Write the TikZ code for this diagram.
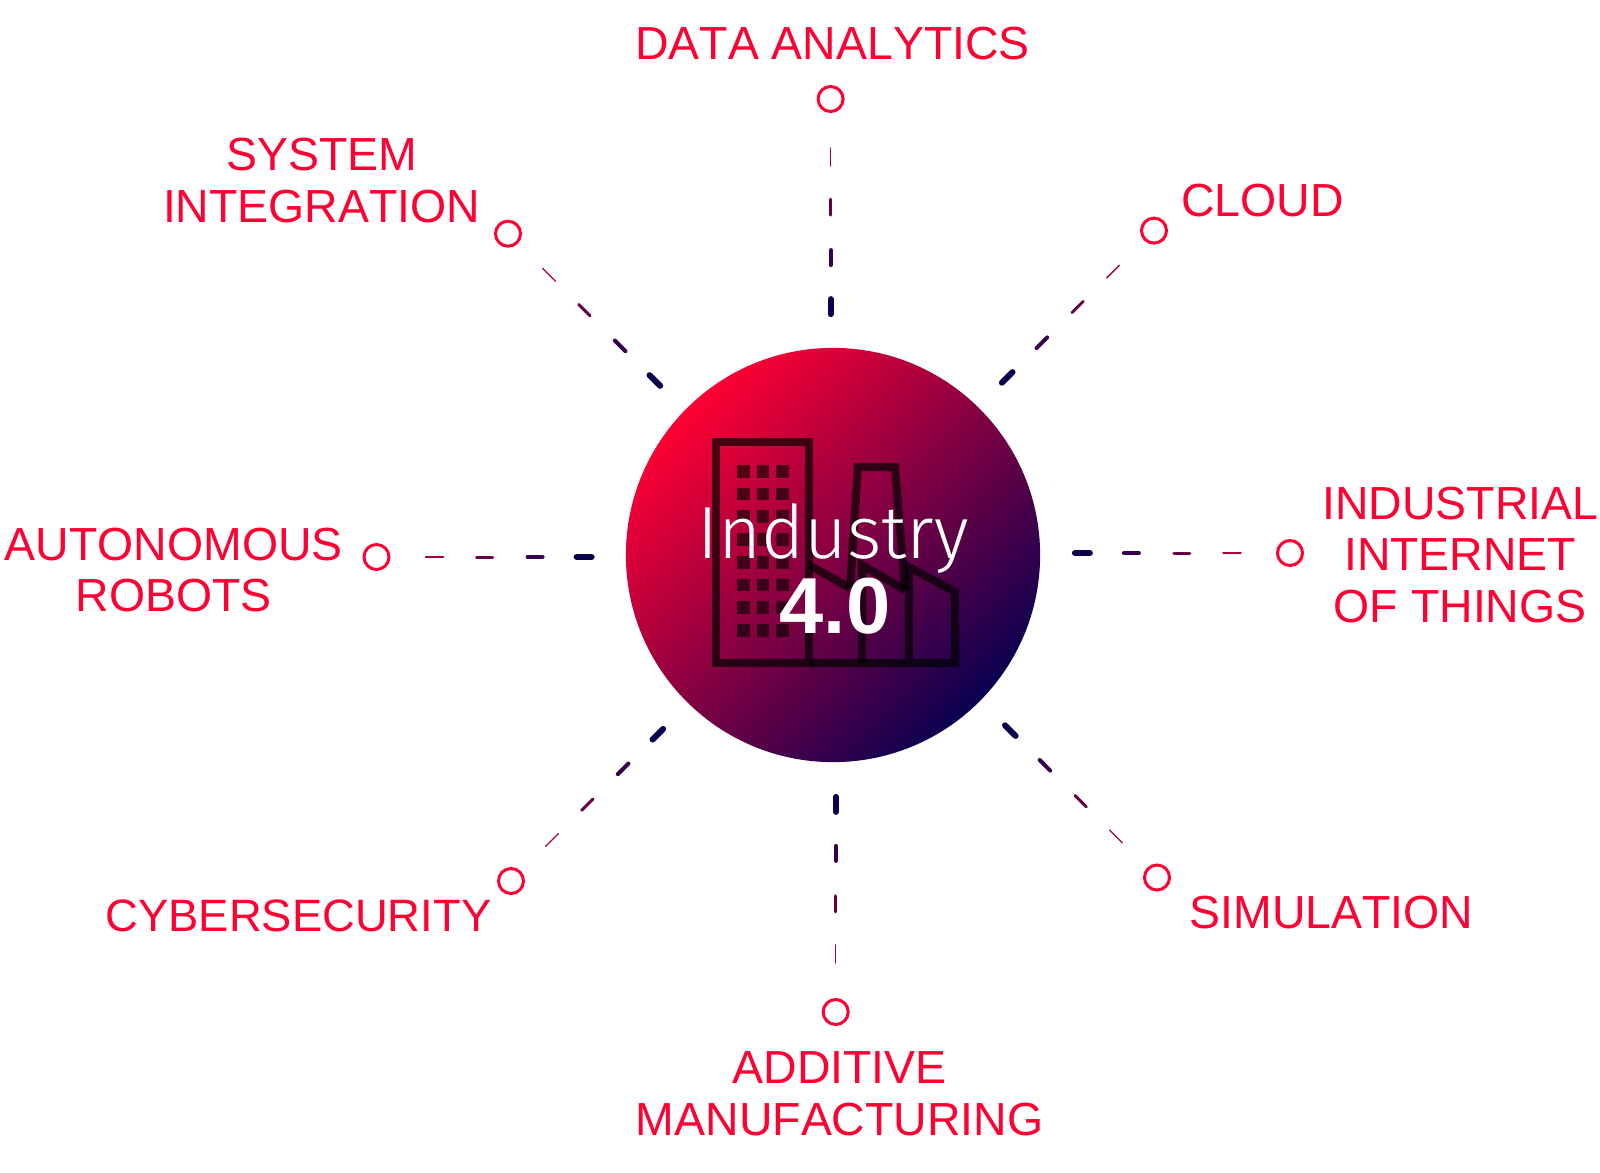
\documentclass[tikz,border=0pt]{standalone}
\usepackage{fontspec}
\setmainfont[Kerning=Off]{Liberation Sans}
\newfontfamily\hublight{Fira Sans Light}
\usetikzlibrary{positioning,calc}

\definecolor{accent}{HTML}{FF0033}
\definecolor{deep}{HTML}{0A0050}
\pgfdeclarehorizontalshading{hubshade}{100bp}{color(0bp)=(accent); color(25bp)=(accent); color(75bp)=(deep); color(100bp)=(deep)}

\begin{document}
\begin{tikzpicture}[
  x=0.01cm, y=-0.01cm,
  ring/.style={draw=accent, circle, line width=0.03cm, minimum size=0.25cm, inner sep=0pt},
  term/.style={text=accent, align=center, inner sep=0pt, font=\fontsize{13.2}{14.7}\selectfont},
  hubdisc/.style={circle, minimum size=4.14cm, inner sep=0pt, shading=hubshade, shading angle=-45},
  plant/.style={draw=black, draw opacity=0.68, line width=0.08cm, miter limit=10},
  pane/.style={fill=black, fill opacity=0.6}
]
  \useasboundingbox (0,0) rectangle (1600,1172);

  \node[hubdisc] (hub) at (833,555) {};

  % factory
  \draw[plant] (716,442) rectangle (809,663);
  \draw[plant] (809,663) -- (955,663) -- (955,592) -- (909,567) -- (909,663);
  \draw[plant] (809,565) -- (850,588);
  \draw[plant] (862,663) -- (862,565) -- (905,590);
  \draw[plant] (850,588) -- (858,467) -- (895,467) -- (905,590);
  \foreach \row in {0,...,7}
    \foreach \col in {0,1,2}
      \fill[pane] ({737+19.5*\col},{465+22.7*\row}) rectangle ++(12.7,12.7);

  \node[text=white, inner sep=0pt, anchor=base, font=\hublight\fontsize{21}{24}\selectfont] (title) at (833,558) {Industry};
  \node[text=white, inner sep=0pt, below=0.04cm of title, xshift=0.02cm, font=\bfseries\fontsize{22.6}{26}\selectfont] (num) {4.0};

  % rings
  \node[ring] (dataring) at (830.6,99) {};
  \node[ring] (cloudring) at (1154,230.6) {};
  \node[ring] (iiotring) at (1290,553) {};
  \node[ring] (simring) at (1157,877.5) {};
  \node[ring] (addring) at (835.7,1012) {};
  \node[ring] (cyberring) at (511,881) {};
  \node[ring] (autoring) at (376.5,557) {};
  \node[ring] (sysring) at (508,233.7) {};

  \coordinate (dataaim) at (830.6,555);
  \coordinate (cloudaim) at (829,555.6);
  \coordinate (iiotaim) at (833,553);
  \coordinate (simaim) at (833,553);
  \coordinate (addaim) at (835.7,555);
  \coordinate (cyberaim) at (833,559);
  \coordinate (autoaim) at (833,557);
  \coordinate (sysaim) at (830,555.7);

  % spokes
  \foreach \spoke in {data,cloud,iiot,sim,add,cyber,auto,sys}
    \foreach \from/\to/\wd/\tone in {
      0.49/0.67/0.013/accent!65!deep,
      1.00/1.16/0.03/accent!38!deep,
      1.51/1.66/0.04/accent!18!deep,
      2.00/2.15/0.06/deep}
      \draw[draw=\tone, line width=\wd cm, line cap=round]
        ($(\spoke ring)!\from cm!(\spoke aim)$) -- ($(\spoke ring)!\to cm!(\spoke aim)$);

  % labels
  \node[term, above=0.24cm of dataring, xshift=0.02cm] (data) {DATA ANALYTICS};
  \node[term, right=0.125cm of cloudring, yshift=0.30cm] (cloud) {CLOUD};
  \node[term, right=0.175cm of iiotring, yshift=-0.02cm] (iiot) {INDUSTRIAL\\INTERNET\\OF THINGS};
  \node[term, right=0.18cm of simring, yshift=-0.345cm] (sim) {SIMULATION};
  \node[term, below=0.25cm of addring, xshift=0.04cm] (add) {ADDITIVE\\MANUFACTURING};
  \node[term, left=0.05cm of cyberring, yshift=-0.35cm, font=\fontsize{12.9}{14.7}\selectfont] (cyber) {CYBERSECURITY};
  \node[term, left=0.19cm of autoring, yshift=-0.13cm] (auto) {AUTONOMOUS\\ROBOTS};
  \node[term, left=0.13cm of sysring, yshift=0.53cm] (sys) {SYSTEM\\INTEGRATION};
\end{tikzpicture}
\end{document}
